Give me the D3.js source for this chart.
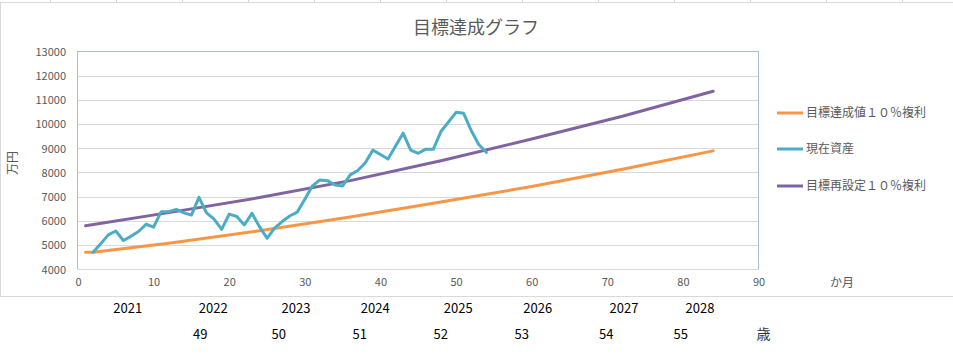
<!DOCTYPE html>
<html><head><meta charset="utf-8">
<script src="https://cdn.jsdelivr.net/npm/d3@7"></script>
<style>
html,body{margin:0;padding:0;background:#fff;}
svg{display:block;}
text{font-family:"Noto Sans CJK JP","Noto Sans",sans-serif;}
</style></head>
<body>
<svg id="c" width="953" height="356"></svg>
<script>
// ---- data ----
const title = "目標達成グラフ";
const seriesNames = ["目標達成値１０％複利", "現在資産", "目標再設定１０％複利"];
const targetMonths = [1, 2, 12, 24, 36, 48, 60, 72, 84];
const targetValues = [4700, 4700, 5080, 5590, 6160, 6780, 7420, 8130, 8890];
const assetMonths = [2,3,4,5,6,7,8,9,10,11,12,13,14,15,16,17,18,19,20,21,22,23,24,25,26,27,28,29,30,31,32,33,34,35,36,37,38,39,40,41,42,43,44,45,46,47,48,49,50,51,52,53,54];
const assetValues = [4700,5050,5420,5580,5190,5360,5560,5860,5740,6380,6380,6470,6330,6240,6970,6330,6070,5650,6280,6180,5830,6310,5760,5280,5700,5970,6200,6360,6890,7440,7690,7660,7480,7440,7900,8080,8400,8920,8740,8550,9090,9620,8920,8790,8960,8960,9690,10080,10480,10440,9730,9150,8830];
const resetMonths = [1, 12, 24, 36, 48, 60, 72, 84];
const resetValues = [5800, 6340, 6960, 7660, 8480, 9380, 10320, 11350];
const xTicks = [0,10,20,30,40,50,60,70,80,90];
const yTicks = [4000,5000,6000,7000,8000,9000,10000,11000,12000,13000];
const yearLabels = ["2021","2022","2023","2024","2025","2026","2027","2028"];
const ageLabels = ["49","50","51","52","53","54","55"];
const yUnit = "万円", xUnit = "か月", ageUnit = "歳";

// ---- layout ----
const colors = ["#F79646", "#4BACC6", "#8064A2"];
const yearX = [127.7, 213.3, 296, 375.3, 458.3, 537.7, 624, 700];
const ageX = [200.3, 278.7, 359.7, 440.7, 521.7, 606.3, 680.7];
const sheetLinesX = [50.5,116.5,182.5,248.5,314.5,380.5,446.5,522.5,598.5,674.5,750.5,826.5,902.5];

const svg = d3.select("#c");
// spreadsheet grid stubs
svg.selectAll("line.sheet").data(sheetLinesX).join("line")
  .attr("x1", d=>d).attr("x2", d=>d).attr("y1", 0).attr("y2", 3)
  .attr("stroke", "#d4d4d4");
// chart area border
svg.append("rect").attr("x", 0.5).attr("y", 2.5).attr("width", 960).attr("height", 294)
  .attr("fill", "#fff").attr("stroke", "#d9d9d9");

const x = d3.scaleLinear().domain([0, 90]).range([78, 758.5]);
const y = d3.scaleLinear().domain([4000, 13000]).range([269.3, 51.3]);

// gridlines
svg.append("g").selectAll("line").data(yTicks).join("line")
  .attr("x1", x(0)).attr("x2", x(90))
  .attr("y1", d=>Math.round(y(d))+0.5).attr("y2", d=>Math.round(y(d))+0.5)
  .attr("stroke", "#d9d9d9").attr("stroke-width", 1);
// plot border top/left/right
const pb = svg.append("g").attr("stroke", "#a8bcd6").attr("fill", "none");
pb.append("line").attr("x1", x(0)-0.5).attr("x2", x(90)+0.5).attr("y1", Math.round(y(13000))+0.5).attr("y2", Math.round(y(13000))+0.5);
pb.append("line").attr("x1", Math.round(x(0))-0.5).attr("x2", Math.round(x(0))-0.5).attr("y1", y(13000)).attr("y2", y(4000));
pb.append("line").attr("x1", Math.round(x(90))-0.5).attr("x2", Math.round(x(90))-0.5).attr("y1", y(13000)).attr("y2", y(4000));

// axes
const yAxis = d3.axisLeft(y).tickValues(yTicks).tickSize(0).tickPadding(0).tickFormat(d3.format("d"));
const gy = svg.append("g").attr("transform", "translate(66,0)").call(yAxis);
gy.select(".domain").remove();
gy.selectAll("text").attr("fill", "#595959").style("font-size", "11px").attr("dy", "0.35em");

const xAxis = d3.axisBottom(x).tickValues(xTicks).tickSize(0).tickPadding(0);
const gx = svg.append("g").attr("transform", "translate(0,278)").call(xAxis);
gx.select(".domain").remove();
gx.selectAll("text").attr("fill", "#595959").style("font-size", "11px").attr("dy", "0.71em");

// lines
const line = d3.line().x(d=>x(d[0])).y(d=>y(d[1]));
const series = [
  d3.zip(targetMonths, targetValues),
  d3.zip(assetMonths, assetValues),
  d3.zip(resetMonths, resetValues)
];
const drawOrder = [0, 2, 1];
drawOrder.forEach(i => {
  svg.append("path").datum(series[i]).attr("d", line)
    .attr("fill", "none").attr("stroke", colors[i]).attr("stroke-width", 3)
    .attr("stroke-linejoin", "round").attr("stroke-linecap", "round");
});

// title
svg.append("text").attr("x", 476).attr("y", 28).attr("text-anchor", "middle").attr("dy", "0.35em")
  .attr("fill", "#595959").style("font-size", "18px").text(title);

// legend
const legY = [113, 149, 186];
seriesNames.forEach((n, i) => {
  svg.append("line").attr("x1", 777).attr("x2", 803).attr("y1", legY[i]).attr("y2", legY[i])
    .attr("stroke", colors[i]).attr("stroke-width", 3);
  svg.append("text").attr("x", 806).attr("y", legY[i]).attr("dy", "0.35em")
    .attr("fill", "#595959").style("font-size", "12px").text(n);
});

// axis unit labels
svg.append("text").attr("transform", "translate(13,163) rotate(-90)").attr("text-anchor", "middle").attr("dy", "0.35em")
  .attr("fill", "#595959").style("font-size", "12px").text(yUnit);
svg.append("text").attr("x", 842).attr("y", 283).attr("text-anchor", "middle").attr("dy", "0.35em")
  .attr("fill", "#595959").style("font-size", "12px").text(xUnit);

// cells below chart
svg.selectAll("text.yr").data(yearLabels).join("text").attr("class", "yr")
  .attr("x", (d,i)=>yearX[i]).attr("y", 308.5).attr("text-anchor", "middle").attr("dy", "0.35em")
  .attr("fill", "#000").style("font-size", "13px").text(d=>d);
svg.selectAll("text.age").data(ageLabels).join("text").attr("class", "age")
  .attr("x", (d,i)=>ageX[i]).attr("y", 334.5).attr("text-anchor", "middle").attr("dy", "0.35em")
  .attr("fill", "#000").style("font-size", "13px").text(d=>d);
svg.append("text").attr("x", 763.5).attr("y", 334.5).attr("text-anchor", "middle").attr("dy", "0.35em")
  .attr("fill", "#333").style("font-size", "14px").text(ageUnit);
</script>
</body></html>
